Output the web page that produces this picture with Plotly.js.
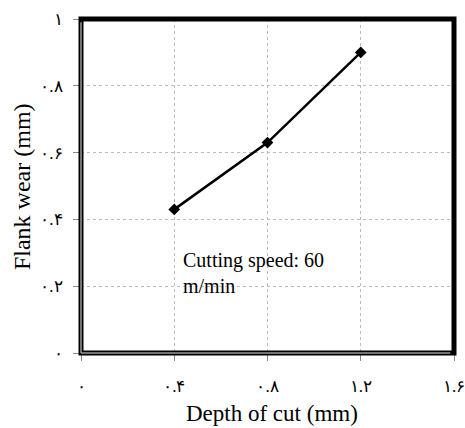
<!DOCTYPE html>
<html>
<head>
<meta charset="utf-8">
<script src="https://cdn.plot.ly/plotly-3.0.1.min.js"></script>
<style>html,body{margin:0;padding:0;background:#fff;}#chart{width:465px;height:428px;}</style>
</head>
<body>
<div id="chart"></div>
<script>
// Data
const depthOfCut = [0.4, 0.8, 1.2];
const flankWear = [0.43, 0.63, 0.9];
const xTickVals = [0, 0.4, 0.8, 1.2, 1.6];
const xTickText = ['۰', '۰.۴', '۰.۸', '۱.۲', '۱.۶'];
const yTickVals = [0, 0.2, 0.4, 0.6, 0.8, 1];
const yTickText = ['۰', '۰.۲', '۰.۴', '۰.۶', '۰.۸', '۱'];
const xTitle = 'Depth of cut (mm)';
const yTitle = 'Flank wear (mm)';
const noteText = 'Cutting speed: 60<br>m/min';

const serif = 'Liberation Serif, Times New Roman, serif';

const trace = {
  x: depthOfCut,
  y: flankWear,
  type: 'scatter',
  mode: 'lines+markers',
  line: {color: '#000', width: 2.5},
  marker: {symbol: 'diamond', size: 9, color: '#000'},
  showlegend: false,
  hoverinfo: 'skip'
};

const layout = {
  width: 465,
  height: 428,
  margin: {l: 81, r: 11, t: 19, b: 75},
  paper_bgcolor: '#fff',
  plot_bgcolor: '#fff',
  showlegend: false,
  font: {family: serif},
  xaxis: {
    range: [0, 1.6],
    tickvals: xTickVals,
    ticktext: xTickText,
    ticks: 'outside',
    ticklen: 7,
    tickcolor: '#888',
    tickwidth: 1,
    ticklabelstandoff: 11,
    ticklabeloverflow: 'allow',
    showgrid: true,
    gridcolor: '#bbbbbb',
    griddash: 'dot',
    gridwidth: 1,
    zeroline: false,
    showline: false,
    tickfont: {family: serif, size: 17, color: '#000'}
  },
  yaxis: {
    range: [0, 1],
    tickvals: yTickVals,
    ticktext: yTickText,
    ticks: 'outside',
    ticklen: 7,
    tickcolor: '#888',
    tickwidth: 1,
    ticklabelstandoff: 7,
    ticklabeloverflow: 'allow',
    showgrid: true,
    gridcolor: '#bbbbbb',
    griddash: 'dot',
    gridwidth: 1,
    zeroline: false,
    showline: false,
    tickfont: {family: serif, size: 17, color: '#000'}
  },
  shapes: [
    {type: 'rect', xref: 'paper', yref: 'paper', x0: 0, x1: 1, y0: 0, y1: 1,
     line: {color: '#000', width: 5}, layer: 'above'},
    {type: 'line', xref: 'paper', yref: 'paper', x0: 0, x1: 0, y0: 0, y1: 0.99,
     line: {color: '#999', width: 1.5}, layer: 'above'},
    {type: 'line', xref: 'paper', yref: 'paper', x0: 0, x1: 0.99, y0: 0, y1: 0,
     line: {color: '#999', width: 1.5}, layer: 'above'}
  ],
  annotations: [
    {text: noteText, xref: 'x', yref: 'y', x: 0.43, y: 0.318,
     xanchor: 'left', yanchor: 'top', align: 'left', showarrow: false,
     font: {family: serif, size: 20, color: '#000'}},
    {text: xTitle, xref: 'paper', yref: 'paper', x: 0.512, y: -0.182,
     xanchor: 'center', yanchor: 'middle', showarrow: false,
     font: {family: serif, size: 23, color: '#000'}},
    {text: yTitle, xref: 'paper', yref: 'paper', x: -0.158, y: 0.497,
     xanchor: 'center', yanchor: 'middle', textangle: -90, showarrow: false,
     font: {family: serif, size: 24, color: '#000'}}
  ]
};

Plotly.newPlot('chart', [trace], layout, {displayModeBar: false, staticPlot: true});
</script>
</body>
</html>
